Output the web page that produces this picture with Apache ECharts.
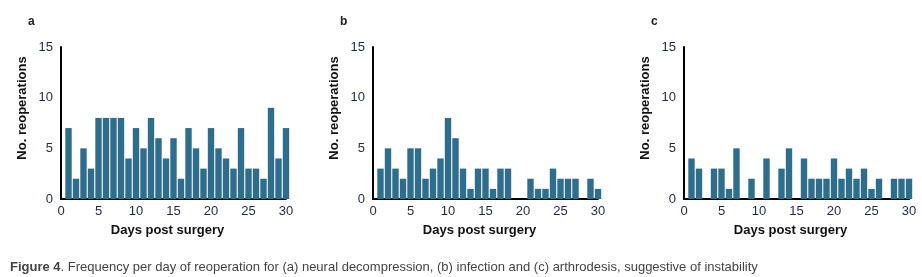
<!DOCTYPE html>
<html>
<head>
<meta charset="utf-8">
<script src="https://cdn.jsdelivr.net/npm/echarts@6/dist/echarts.min.js"></script>
<style>
  html, body { margin: 0; padding: 0; background: #fff; }
  #chart { width: 922px; height: 277px; }
</style>
</head>
<body>
<div id="chart"></div>
<script>
var days = [];
for (var d = 1; d <= 30; d++) days.push(d);

// reoperations per day, days 1..30
var neural = [7, 2, 5, 3, 8, 8, 8, 8, 4, 7, 5, 8, 6, 4, 6, 2, 7, 5, 3, 7, 5, 4, 3, 7, 3, 3, 2, 9, 4, 7];
var infection = [3, 5, 3, 2, 5, 5, 2, 3, 4, 8, 6, 3, 1, 3, 3, 1, 3, 3, 0, 0, 2, 1, 1, 3, 2, 2, 2, 0, 2, 1];
var arthrodesis = [4, 3, 0, 3, 3, 1, 5, 0, 2, 0, 4, 0, 3, 5, 0, 4, 2, 2, 2, 4, 2, 3, 2, 3, 1, 2, 0, 2, 2, 2];

var panelLabels = ['a', 'b', 'c'];
var panelData = [neural, infection, arthrodesis];
var gridLefts = [61, 373, 684];

var chart = echarts.init(document.getElementById('chart'));

var font = 'Liberation Sans, Arial, sans-serif';
var grids = [], xAxes = [], yAxes = [], series = [], titles = [];

panelData.forEach(function (vals, i) {
    grids.push({ left: gridLefts[i], top: 47, width: 225, height: 152 });
    xAxes.push({
        type: 'value', gridIndex: i, min: 0, max: 30, interval: 5,
        name: 'Days post surgery', nameLocation: 'middle', nameGap: 25,
        nameTextStyle: { fontFamily: font, fontWeight: 'bold', fontSize: 13, color: '#111', padding: [0, 12, 0, 0] },
        axisLine: { lineStyle: { color: '#000', width: 2 } },
        axisTick: { show: false },
        splitLine: { show: false },
        axisLabel: { fontFamily: font, fontSize: 13, color: '#1c2a44', margin: 6 }
    });
    yAxes.push({
        type: 'value', gridIndex: i, min: 0, max: 15, interval: 5,
        name: 'No. reoperations', nameLocation: 'middle', nameGap: 32,
        nameTextStyle: { fontFamily: font, fontWeight: 'bold', fontSize: 13, color: '#111', padding: [0, 0, 0, 30] },
        axisLine: { show: true, lineStyle: { color: '#000', width: 2 } },
        axisTick: { show: false },
        splitLine: { show: false },
        axisLabel: { fontFamily: font, fontSize: 13, color: '#1c2a44', margin: 8 }
    });
    series.push({
        type: 'bar', xAxisIndex: i, yAxisIndex: i,
        barWidth: 6.4,
        itemStyle: { color: '#2f6d8c' },
        data: days.map(function (day, k) { return [day, vals[k]]; })
    });
    titles.push({
        text: panelLabels[i], left: gridLefts[i] - 38, top: 11,
        textStyle: { fontFamily: font, fontWeight: 'bold', fontSize: 12, color: '#222' }
    });
});

titles.push({
    text: '{b|Figure 4}. Frequency per day of reoperation for (a) neural decompression, (b) infection and (c) arthrodesis, suggestive of instability',
    left: 5, top: 256,
    textStyle: {
        fontFamily: font, fontSize: 13, fontWeight: 'normal', color: '#444',
        rich: { b: { fontFamily: font, fontSize: 13, fontWeight: 'bold', color: '#444' } }
    }
});

chart.setOption({
    animation: false,
    title: titles,
    grid: grids,
    xAxis: xAxes,
    yAxis: yAxes,
    series: series
});
</script>
</body>
</html>
